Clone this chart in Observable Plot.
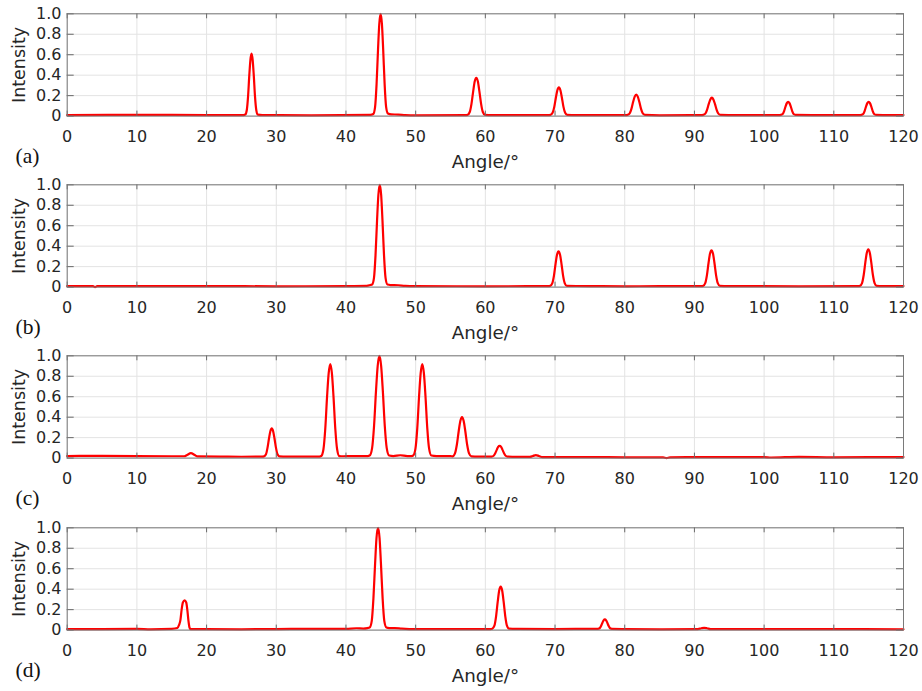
<!DOCTYPE html>
<html>
<head>
<meta charset="utf-8">
<script src="https://cdn.jsdelivr.net/npm/d3@7"></script>
<script src="https://cdn.jsdelivr.net/npm/@observablehq/plot@0.6"></script>
<style>
  html, body { margin: 0; padding: 0; background: #fff; }
  #chart svg { display: block; }
</style>
</head>
<body>
<div id="chart"></div>
<script>
// ---- tick labels ----
const xTicks = [0, 10, 20, 30, 40, 50, 60, 70, 80, 90, 100, 110, 120];
const yTicks = [0, 0.2, 0.4, 0.6, 0.8, 1.0];
const yTickLabels = ["0", "0.2", "0.4", "0.6", "0.8", "1.0"];
const panelLabels = ["(a)", "(b)", "(c)", "(d)"];
const xLabel = "Angle/\u00B0";
const yLabel = "Intensity";

// ---- panel (a) ----
const angleA = [0, 10, 20, 25.3,
  25.55, 25.77, 25.95, 26.13, 26.29, 26.45, 26.61, 26.77, 26.95, 27.13, 27.35,
  28, 35, 43.5,
  43.92, 44.18, 44.39, 44.6, 44.78, 44.97, 45.16, 45.34, 45.55, 45.76, 46.02, 46.5, 47.5, 48.5,
  50, 57.1,
  57.45, 57.76, 58.01, 58.26, 58.48, 58.7, 58.92, 59.14, 59.39, 59.64, 59.95,
  61, 69.0,
  69.35, 69.65, 69.89, 70.13, 70.33, 70.55, 70.77, 70.97, 71.21, 71.45, 71.75,
  73, 80.1,
  80.4, 80.71, 80.96, 81.21, 81.43, 81.65, 81.87, 82.09, 82.34, 82.59, 82.9,
  85, 91.0,
  91.25, 91.56, 91.81, 92.06, 92.28, 92.5, 92.72, 92.94, 93.19, 93.44, 93.75,
  96, 102.1,
  102.4, 102.66, 102.87, 103.08, 103.26, 103.45, 103.64, 103.82, 104.03, 104.24, 104.5,
  108, 113.7,
  113.95, 114.21, 114.42, 114.63, 114.81, 115.0, 115.19, 115.37, 115.58, 115.79, 116.05,
  118, 120];
const intensityA = [0.01, 0.012, 0.01, 0.01,
  0.015, 0.06, 0.19, 0.40, 0.55, 0.61, 0.55, 0.40, 0.19, 0.06, 0.015,
  0.01, 0.008, 0.012,
  0.02, 0.09, 0.31, 0.65, 0.9, 1.0, 0.9, 0.65, 0.31, 0.09, 0.025, 0.016, 0.015, 0.01,
  0.008, 0.01,
  0.012, 0.04, 0.12, 0.245, 0.34, 0.375, 0.34, 0.245, 0.12, 0.04, 0.012,
  0.01, 0.01,
  0.012, 0.032, 0.09, 0.185, 0.253, 0.28, 0.253, 0.185, 0.09, 0.032, 0.012,
  0.01, 0.01,
  0.012, 0.026, 0.07, 0.14, 0.19, 0.21, 0.19, 0.14, 0.07, 0.026, 0.012,
  0.008, 0.01,
  0.012, 0.024, 0.061, 0.12, 0.163, 0.18, 0.163, 0.12, 0.061, 0.024, 0.012,
  0.01, 0.01,
  0.012, 0.02, 0.049, 0.095, 0.127, 0.14, 0.127, 0.095, 0.049, 0.02, 0.012,
  0.01, 0.01,
  0.012, 0.02, 0.049, 0.095, 0.127, 0.14, 0.127, 0.095, 0.049, 0.02, 0.012,
  0.01, 0.01];

// ---- panel (b) ----
const angleB = [0, 3.7, 4.0, 4.3, 10, 20, 30, 40, 43.0, 43.5,
  43.75, 44.02, 44.24, 44.46, 44.65, 44.85, 45.05, 45.24, 45.46, 45.68, 45.95, 46.4, 47.5, 48.5, 50, 60, 69.0,
  69.3, 69.6, 69.84, 70.08, 70.28, 70.5, 70.72, 70.92, 71.16, 71.4, 71.7,
  75, 80, 85, 91.0,
  91.25, 91.55, 91.79, 92.03, 92.23, 92.45, 92.67, 92.87, 93.11, 93.35, 93.65,
  95, 105, 113.5,
  113.75, 114.05, 114.29, 114.53, 114.73, 114.95, 115.17, 115.37, 115.61, 115.85, 116.15,
  117, 120];
const intensityB = [0.01, 0.01, 0.0, 0.01, 0.01, 0.01, 0.008, 0.01, 0.012, 0.02,
  0.025, 0.09, 0.31, 0.65, 0.9, 1.0, 0.9, 0.65, 0.31, 0.09, 0.025, 0.02, 0.018, 0.012, 0.01, 0.008, 0.01,
  0.012, 0.037, 0.11, 0.23, 0.316, 0.35, 0.316, 0.23, 0.11, 0.037, 0.012,
  0.01, 0.007, 0.01, 0.01,
  0.012, 0.038, 0.115, 0.238, 0.325, 0.36, 0.325, 0.238, 0.115, 0.038, 0.012,
  0.01, 0.008, 0.01,
  0.012, 0.039, 0.118, 0.244, 0.334, 0.37, 0.334, 0.244, 0.118, 0.039, 0.012,
  0.01, 0.01];

// ---- panel (c) ----
const angleC = [0, 5, 10, 15, 16.8, 17.2, 17.75, 18.3, 18.7, 22, 25, 28.0,
  28.25, 28.52, 28.74, 28.96, 29.15, 29.35, 29.55, 29.74, 29.96, 30.18, 30.45,
  31.5, 36.2,
  36.45, 36.77, 37.03, 37.29, 37.52, 37.75, 37.98, 38.21, 38.47, 38.73, 39.05, 39.6, 41, 43.1,
  43.4, 43.75, 44.03, 44.31, 44.55, 44.8, 45.05, 45.29, 45.57, 45.85, 46.2, 46.8, 47.8, 48.8, 49.4,
  49.65, 49.97, 50.23, 50.49, 50.72, 50.95, 51.18, 51.41, 51.67, 51.93, 52.25, 53, 54.5, 55.0,
  55.3, 55.64, 55.91, 56.18, 56.41, 56.65, 56.89, 57.12, 57.39, 57.66, 58.0, 59, 60.6,
  60.9, 61.19, 61.42, 61.65, 61.84, 62.05, 62.26, 62.45, 62.68, 62.91, 63.2,
  64.5, 66.4, 66.8, 67.25, 67.7, 68.2, 70, 75, 80, 85.5, 86, 86.5, 90, 95, 100, 101, 105, 110, 115, 120];
const intensityC = [0.02, 0.022, 0.02, 0.018, 0.018, 0.03, 0.048, 0.03, 0.017, 0.015, 0.013, 0.015,
  0.017, 0.037, 0.1, 0.194, 0.263, 0.29, 0.263, 0.194, 0.1, 0.037, 0.017,
  0.015, 0.015,
  0.02, 0.087, 0.287, 0.603, 0.83, 0.92, 0.83, 0.603, 0.287, 0.087, 0.02, 0.018, 0.02, 0.02,
  0.025, 0.098, 0.314, 0.657, 0.9, 1.0, 0.9, 0.657, 0.314, 0.098, 0.025, 0.02, 0.028, 0.02, 0.02,
  0.025, 0.092, 0.29, 0.605, 0.83, 0.92, 0.83, 0.605, 0.29, 0.092, 0.025, 0.02, 0.02, 0.02,
  0.017, 0.046, 0.13, 0.265, 0.362, 0.4, 0.362, 0.265, 0.13, 0.046, 0.017, 0.015, 0.015,
  0.015, 0.023, 0.047, 0.083, 0.11, 0.12, 0.11, 0.083, 0.047, 0.023, 0.015,
  0.012, 0.012, 0.02, 0.03, 0.02, 0.01, 0.01, 0.01, 0.008, 0.008, 0.0, 0.008, 0.01, 0.01, 0.01, 0.006, 0.012, 0.008, 0.01, 0.01];

// ---- panel (d) ----
const angleD = [0, 5, 10, 12, 15, 15.8, 16.05,
  16.25, 16.42, 16.6, 16.85, 17.08, 17.25, 17.4, 17.55, 17.7,
  20, 25, 30, 35, 40, 41.5, 42.5, 43.1,
  43.4, 43.7, 43.94, 44.18, 44.38, 44.6, 44.82, 45.02, 45.26, 45.5, 45.8, 46.2, 47, 48, 50, 55, 60.7,
  61.0, 61.3, 61.54, 61.78, 61.98, 62.2, 62.42, 62.62, 62.86, 63.1, 63.4,
  64.5, 70, 75.9,
  76.15, 76.4, 76.6, 76.8, 76.97, 77.15, 77.33, 77.5, 77.7, 77.9, 78.15,
  80, 85, 90.5, 91.0, 91.4, 91.8, 92.3, 100, 110, 120];
const intensityD = [0.01, 0.01, 0.012, 0.008, 0.012, 0.02, 0.05,
  0.1, 0.2, 0.27, 0.29, 0.27, 0.19, 0.09, 0.025, 0.01,
  0.01, 0.008, 0.01, 0.012, 0.012, 0.018, 0.015, 0.02,
  0.025, 0.09, 0.31, 0.65, 0.9, 1.0, 0.9, 0.65, 0.31, 0.09, 0.025, 0.02, 0.02, 0.015, 0.01, 0.01, 0.01,
  0.014, 0.043, 0.135, 0.28, 0.384, 0.425, 0.384, 0.28, 0.135, 0.043, 0.014,
  0.012, 0.01, 0.012,
  0.012, 0.018, 0.039, 0.072, 0.096, 0.105, 0.096, 0.072, 0.039, 0.018, 0.012,
  0.01, 0.008, 0.01, 0.018, 0.022, 0.018, 0.01, 0.01, 0.01, 0.008];

const panels = [
  {angle: angleA, intensity: intensityA},
  {angle: angleB, intensity: intensityB},
  {angle: angleC, intensity: intensityC},
  {angle: angleD, intensity: intensityD}
];

// ---- layout ----
const W = 922;
const heights = [171, 171, 172, 172];
const mLeft = 66.7, mRight = 19, mTop = 13.3, plotH = 102.3;
const plotW = W - mLeft - mRight;

const chart = document.getElementById("chart");
panels.forEach((p, i) => {
  const data = p.angle.map((a, j) => ({angle: a, intensity: p.intensity[j]}));
  const h = heights[i];
  const svg = Plot.plot({
    width: W,
    height: h,
    marginLeft: mLeft,
    marginRight: mRight,
    marginTop: mTop,
    marginBottom: h - mTop - plotH,
    style: {fontFamily: "'DejaVu Sans', sans-serif", fontSize: "16px", color: "#262626", background: "#fff", overflow: "visible"},
    x: {domain: [0, 120]},
    y: {domain: [0, 1]},
    marks: [
      Plot.ruleX(xTicks, {stroke: "#e3e3e3", strokeWidth: 1}),
      Plot.ruleY(yTicks, {stroke: "#e3e3e3", strokeWidth: 1}),
      Plot.line(data, {x: "angle", y: "intensity", stroke: "#f00", strokeWidth: 2.2, curve: "monotone-x"}),
      // inward tick marks
      Plot.tickX(xTicks, {x: d => d, insetTop: plotH - 5, stroke: "#6a6a6a"}),
      Plot.tickX(xTicks, {x: d => d, insetBottom: plotH - 5, stroke: "#6a6a6a"}),
      Plot.tickY(yTicks, {y: d => d, insetRight: plotW - 7, stroke: "#6a6a6a"}),
      Plot.tickY(yTicks, {y: d => d, insetLeft: plotW - 7, stroke: "#6a6a6a"}),
      Plot.frame({stroke: "#7a7a7a", strokeWidth: 1}),
      Plot.axisX(xTicks, {tickSize: 0, tickPadding: 14.2, label: null, fontSize: 16, fill: "#262626"}),
      Plot.axisY(yTicks, {tickSize: 0, tickPadding: 5.7, label: null, fontSize: 16, fill: "#262626",
        tickFormat: d => yTickLabels[yTicks.indexOf(d)]}),
      Plot.text([yLabel], {frameAnchor: "left", dx: 25 - mLeft, rotate: -90, textAnchor: "middle",
        lineAnchor: "bottom", fontSize: 17.5, fill: "#262626"}),
      Plot.text([xLabel], {frameAnchor: "bottom", dy: 51.4, lineAnchor: "bottom", fontSize: 18.3, fill: "#262626"}),
      Plot.text([panelLabels[i]], {frameAnchor: "bottom-left", dx: 15 - mLeft, dy: 47, textAnchor: "start",
        lineAnchor: "bottom", fontFamily: "'Liberation Serif', serif", fontSize: 21.5, fill: "#111"})
    ]
  });
  chart.appendChild(svg);
});
</script>
</body>
</html>
